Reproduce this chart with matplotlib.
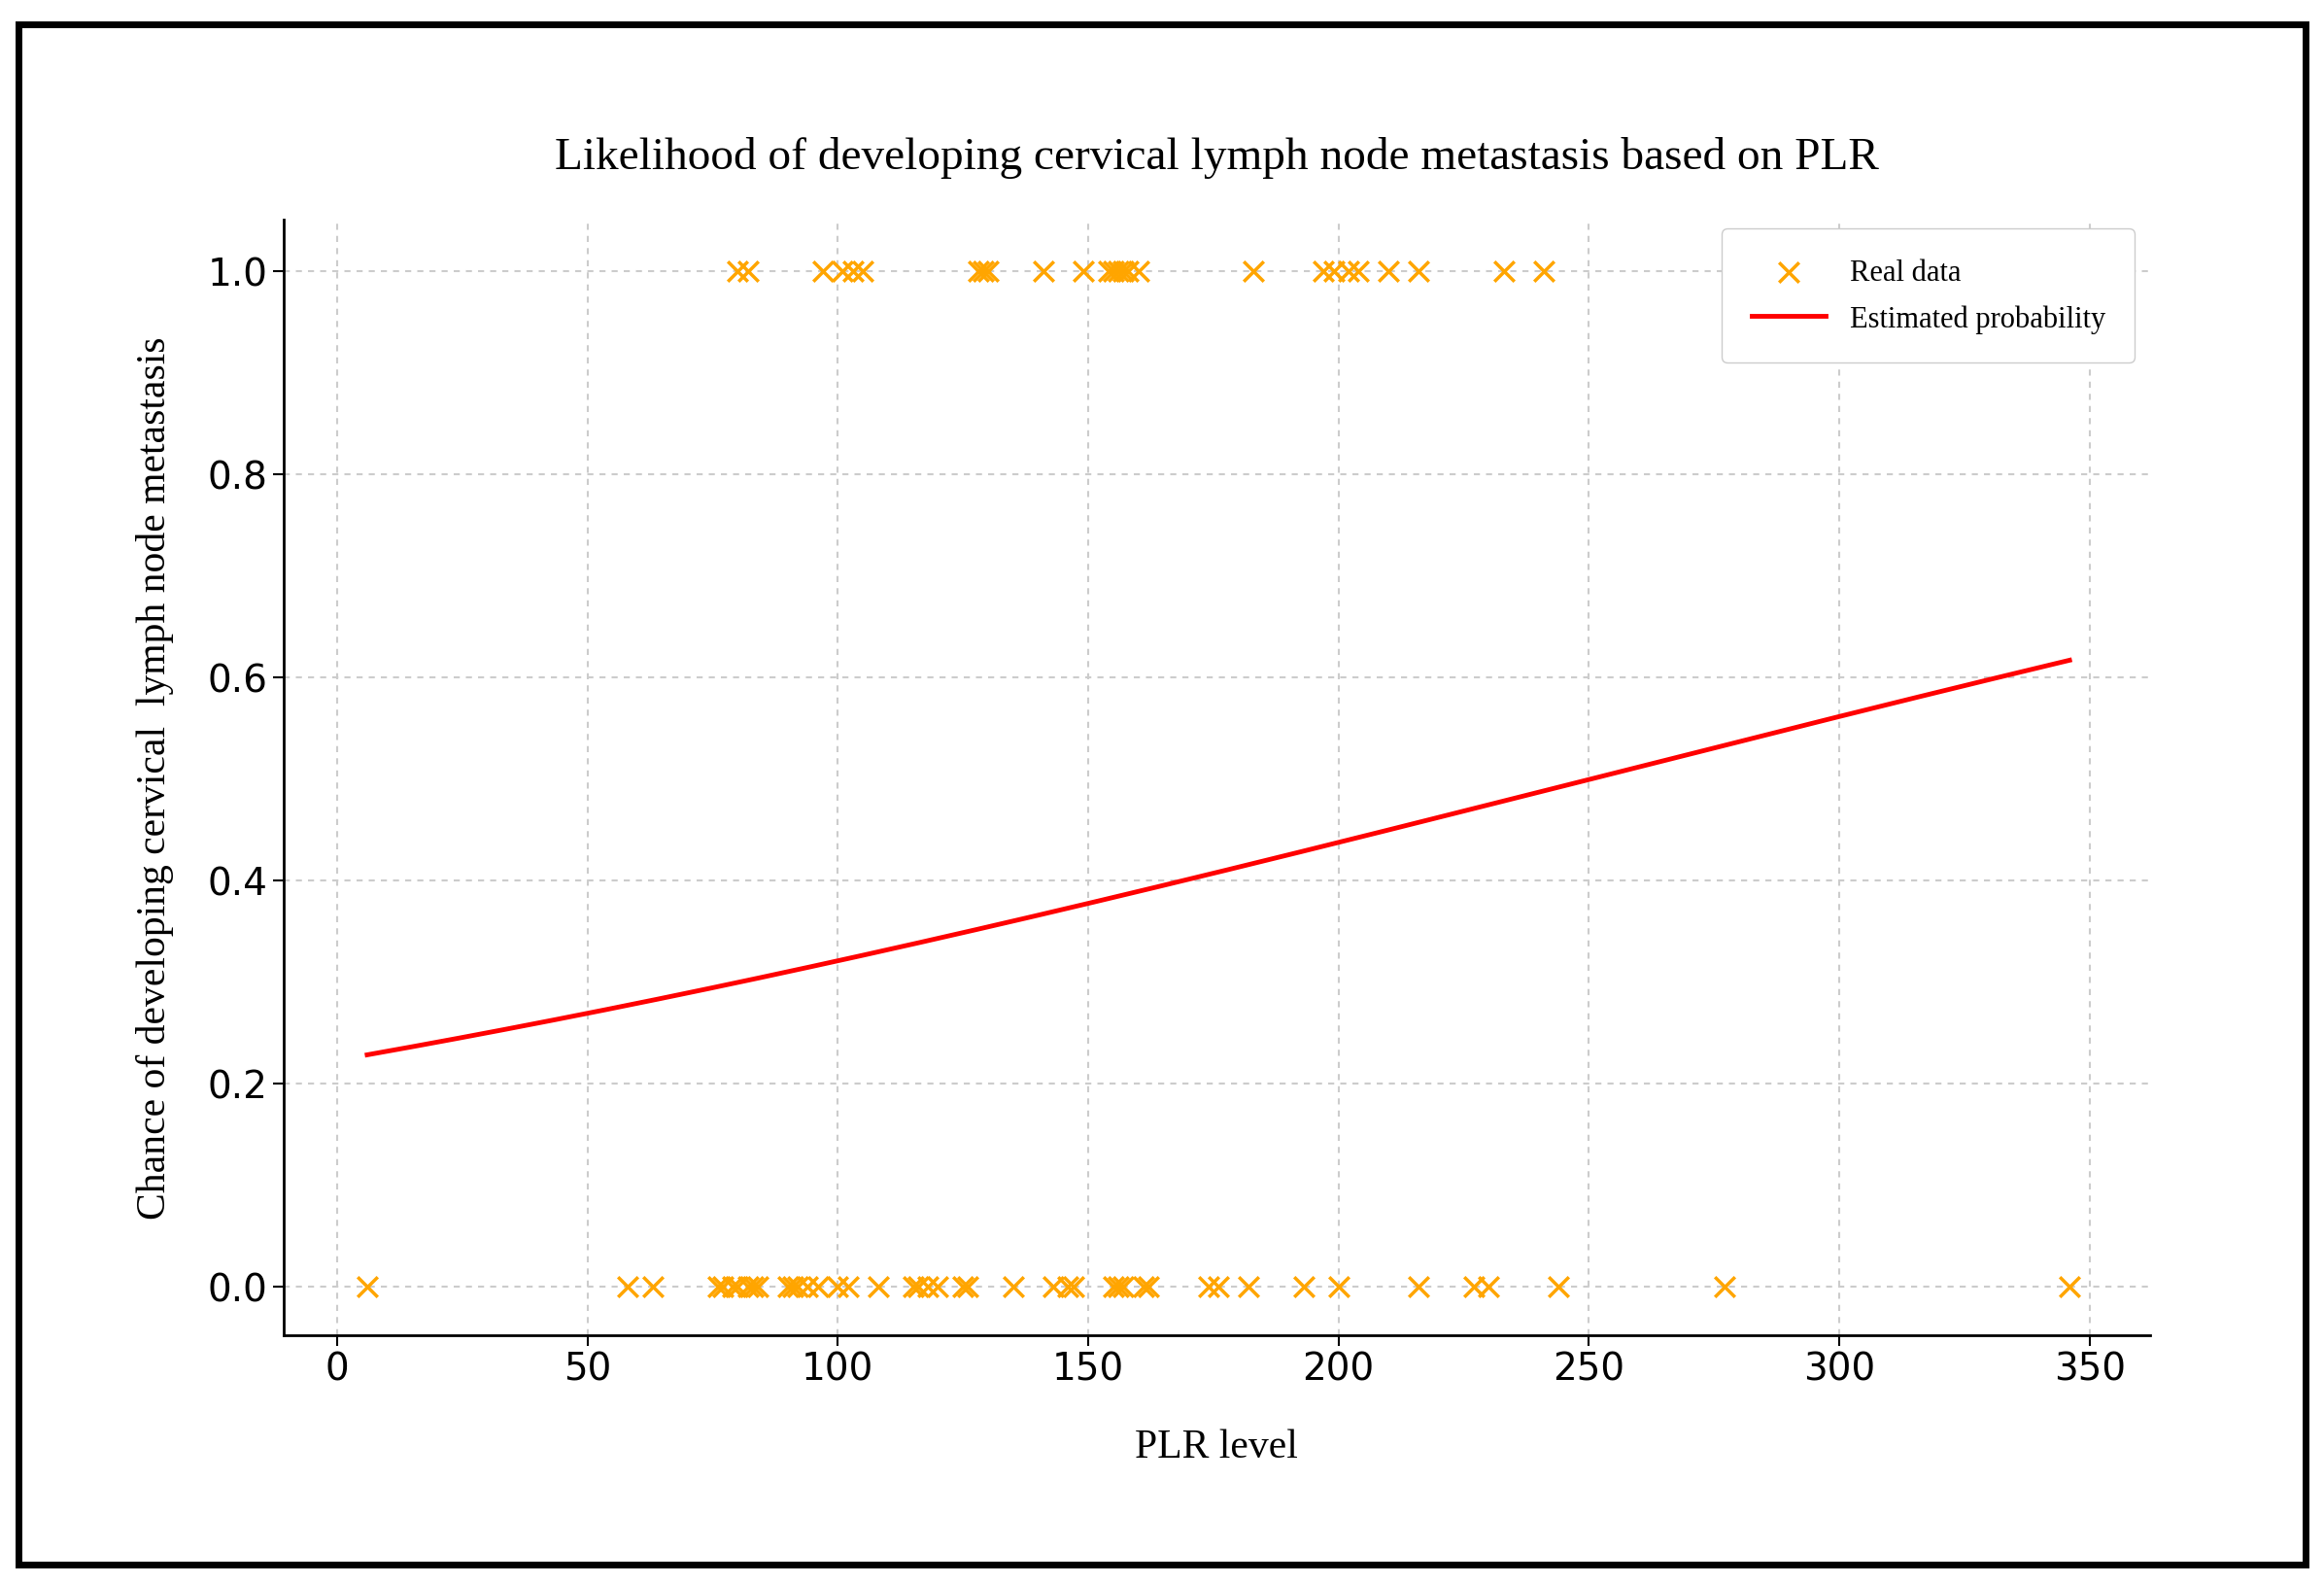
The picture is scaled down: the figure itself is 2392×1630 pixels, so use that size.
import matplotlib.pyplot as plt
import numpy as np
from matplotlib.patches import Rectangle

# PLR values of patients with metastasis (1) and without (0)
plr_pos = [80, 82, 97, 101, 103, 105, 128, 129, 130, 141, 149, 154, 155, 156, 157,
           158, 160, 183, 197, 199, 202, 204, 210, 216, 233, 241]
plr_neg = [6, 58, 63, 76, 77, 79, 80, 82, 83, 84, 90, 91, 92, 94, 96, 100, 102, 108,
           115, 116, 118, 120, 125, 126, 135, 143, 146, 147, 155, 156, 157, 161, 162,
           174, 176, 182, 193, 200, 216, 227, 230, 244, 277, 346]

# fitted logistic model
b0 = -1.249
b1 = 0.004985

plr_x = np.linspace(6, 346, 300)
prob = 1 / (1 + np.exp(-(b0 + b1 * plr_x)))

fig = plt.figure(figsize=(23.92, 16.31), dpi=100)
ax = fig.add_axes([0.122, 0.157, 0.803, 0.704])

ax.scatter(plr_pos + plr_neg, [1] * len(plr_pos) + [0] * len(plr_neg),
           marker="x", color="orange", s=220, linewidths=2.5, label="Real data", zorder=3)
ax.plot(plr_x, prob, color="red", lw=3.5, label="Estimated probability")

ax.set_xlim(-10.7, 362)
ax.set_ylim(-0.048, 1.051)
ax.set_xticks(range(0, 351, 50))
ax.set_yticks([0, 0.2, 0.4, 0.6, 0.8, 1.0])
ax.tick_params(labelsize=28, length=8, width=1.5)
ax.grid(True, ls=(0, (3, 3)), color="#cccccc", lw=1.5)
for side in ["top", "right"]:
    ax.spines[side].set_visible(False)
for side in ["left", "bottom"]:
    ax.spines[side].set_linewidth(2)

ax.set_title("Likelihood of developing cervical lymph node metastasis based on PLR",
             fontsize=34, family="Liberation Serif", pad=38)
ax.set_xlabel("PLR level", fontsize=30, family="Liberation Serif", labelpad=30)
ax.set_ylabel("Chance of developing cervical  lymph node metastasis", fontsize=30,
              family="Liberation Serif", labelpad=25)
ax.legend(loc="upper right", bbox_to_anchor=(1.0, 1.005), prop={"family": "Liberation Serif", "size": 22},
          borderpad=1.0, handlelength=2.5, labelspacing=0.6, framealpha=1)

fig.patches.append(Rectangle((0.008, 0.012), 0.984, 0.972, transform=fig.transFigure,
                             fill=False, edgecolor="black", lw=5))

fig.savefig("out.png")
